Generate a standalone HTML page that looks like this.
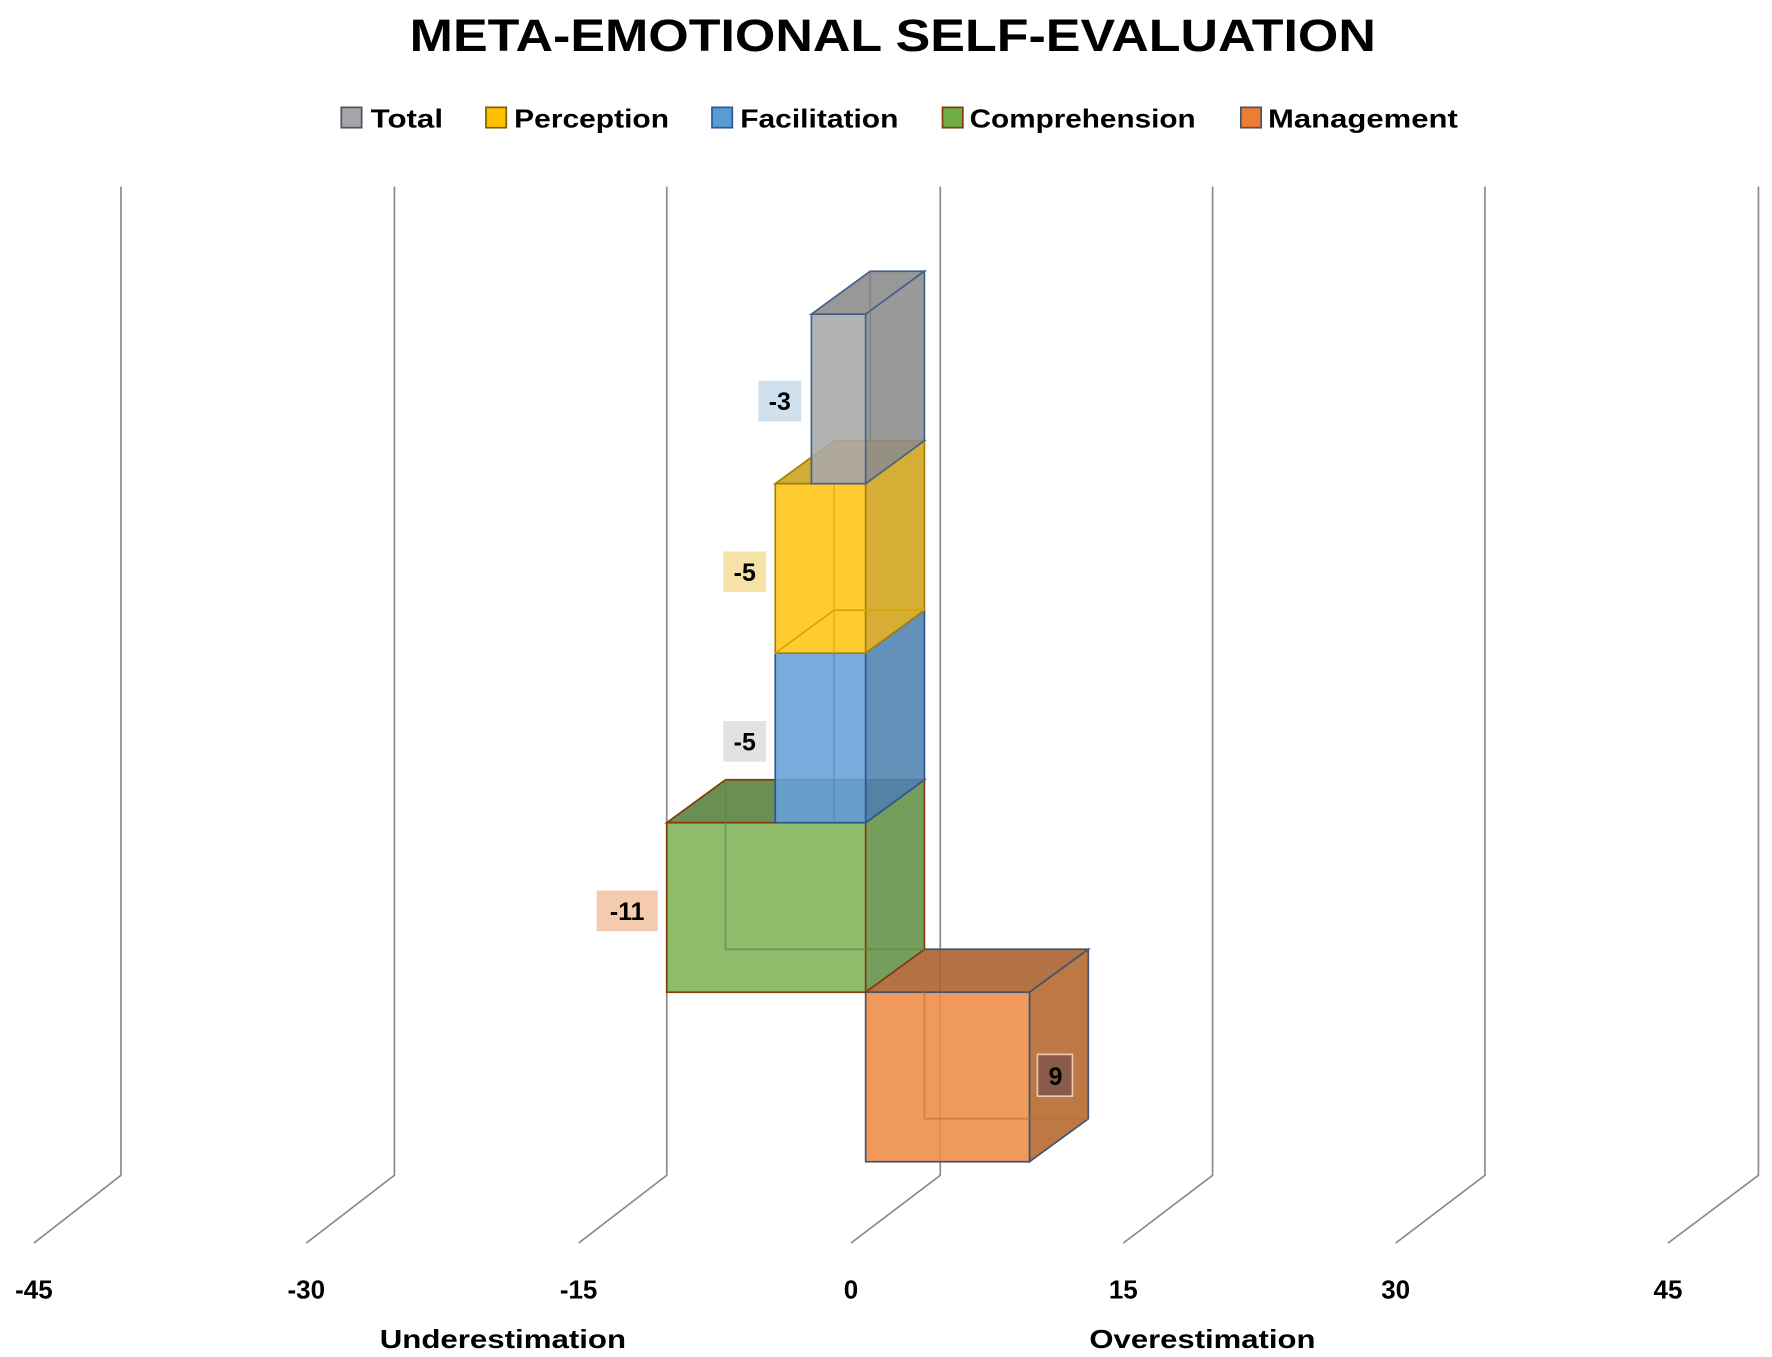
<!DOCTYPE html>
<html><head><meta charset="utf-8"><style>html,body{margin:0;padding:0;background:#fff}svg{display:block}</style></head>
<body>
<svg width="1772" height="1357" viewBox="0 0 1568 1200.8" xmlns="http://www.w3.org/2000/svg" font-family="Liberation Sans, sans-serif" font-weight="bold">
<text x="790" y="45" text-anchor="middle" font-size="40" textLength="855" lengthAdjust="spacingAndGlyphs">META-EMOTIONAL SELF-EVALUATION</text>
<g font-size="23" stroke-width="1.5">
<rect x="302" y="95" width="18" height="18" fill="#a5a5a5" stroke="#44546a"/><text x="328" y="113" textLength="64" lengthAdjust="spacingAndGlyphs">Total</text>
<rect x="430" y="95" width="18" height="18" fill="#ffc000" stroke="#7f6000"/><text x="455" y="113" textLength="137" lengthAdjust="spacingAndGlyphs">Perception</text>
<rect x="630" y="95" width="18" height="18" fill="#5b9bd5" stroke="#2f5597"/><text x="655" y="113" textLength="140" lengthAdjust="spacingAndGlyphs">Facilitation</text>
<rect x="834" y="95" width="18" height="18" fill="#70ad47" stroke="#843c0c"/><text x="858" y="113" textLength="200" lengthAdjust="spacingAndGlyphs">Comprehension</text>
<rect x="1098" y="95" width="18" height="18" fill="#ed7d31" stroke="#44546a"/><text x="1122" y="113" textLength="168" lengthAdjust="spacingAndGlyphs">Management</text>
</g>
<g stroke="#8c8c8c" stroke-width="1.5" fill="none">
<polyline points="107,165 107,1040 30,1100"/>
<polyline points="349,165 349,1040 271,1100"/>
<polyline points="590,165 590,1040 512,1100"/>
<polyline points="832,165 832,1040 753,1100"/>
<polyline points="1073,165 1073,1040 994,1100"/>
<polyline points="1314,165 1314,1040 1235,1100"/>
<polyline points="1556,165 1556,1040 1476,1100"/>
</g>
<g stroke-width="1.5" fill-opacity="0.88">
<!-- Management -->
<g stroke="#44546a">
<polygon points="766,878 818,840 963,840 911,878" fill="#a9602b"/>
<polygon points="911,878 963,840 963,990 911,1028" fill="#b5652a"/>
<rect x="766" y="878" width="145" height="150" fill="#ed8b45"/>
<polyline points="818,840 818,990 963,990 M818,990 766,1028" fill="none" stroke="#c06a30" stroke-opacity="0.6"/>
</g>
<!-- Comprehension -->
<g stroke="#843c0c">
<polygon points="590,728 642,690 818,690 766,728" fill="#55803a"/>
<polygon points="766,728 818,690 818,840 766,878" fill="#628f45"/>
<rect x="590" y="728" width="176" height="150" fill="#7db356"/>
<polyline points="642,690 642,840 818,840 M642,840 590,878" fill="none" stroke="#5e8a40" stroke-opacity="0.7"/>
</g>
<!-- Facilitation -->
<g stroke="#2f5597">
<polygon points="766,578 818,540 818,690 766,728" fill="#4f82b0"/>
<rect x="686" y="578" width="80" height="150" fill="#64a0d8"/>
<line x1="738" y1="578" x2="738" y2="728" stroke="#4f86bb" stroke-opacity="0.6"/>
</g>
<!-- Perception -->
<g stroke="#a68000">
<polygon points="686,428 738,390 818,390 766,428" fill="#c9a020"/>
<polygon points="766,428 818,390 818,540 766,578" fill="#d1a319"/>
<rect x="686" y="428" width="80" height="150" fill="#ffc414"/>
<line x1="738" y1="428" x2="738" y2="578" stroke="#e0aa10" stroke-opacity="0.7"/>
<polyline points="686,578 738,540 818,540" fill="none" stroke="#d9a500"/>
</g>
<!-- Total -->
<g stroke="#44628a">
<polygon points="718,278 770,240 818,240 766,278" fill="#8a8a8a"/>
<polygon points="766,278 818,240 818,390 766,428" fill="#8c8c8c"/>
<rect x="718" y="278" width="48" height="150" fill="#a8a8a8"/>
<line x1="770" y1="240" x2="770" y2="390" stroke="#777" stroke-opacity="0.6"/>
</g>
</g>
<g font-size="22" text-anchor="middle">
<rect x="671" y="337" width="38" height="36" fill="#cfe0ef"/><text x="690" y="363">-3</text>
<rect x="640" y="488" width="38" height="36" fill="#f6e3a8"/><text x="659" y="514">-5</text>
<rect x="640" y="638" width="38" height="36" fill="#e2e2e2"/><text x="659" y="664">-5</text>
<rect x="528" y="788" width="54" height="36" fill="#f5cbb0"/><text x="555" y="814">-11</text>
<rect x="918" y="933" width="31" height="37" fill="#8a5a4a" stroke="#e8c8b0" stroke-width="1.5"/><text x="934" y="960">9</text>
</g>
<g font-size="23" text-anchor="middle">
<text x="30" y="1149">-45</text><text x="271" y="1149">-30</text><text x="512" y="1149">-15</text><text x="753" y="1149">0</text><text x="994" y="1149">15</text><text x="1235" y="1149">30</text><text x="1476" y="1149">45</text>
<text x="445" y="1193" textLength="218" lengthAdjust="spacingAndGlyphs">Underestimation</text>
<text x="1064" y="1193" textLength="200" lengthAdjust="spacingAndGlyphs">Overestimation</text>
</g>
</svg>
</body></html>
